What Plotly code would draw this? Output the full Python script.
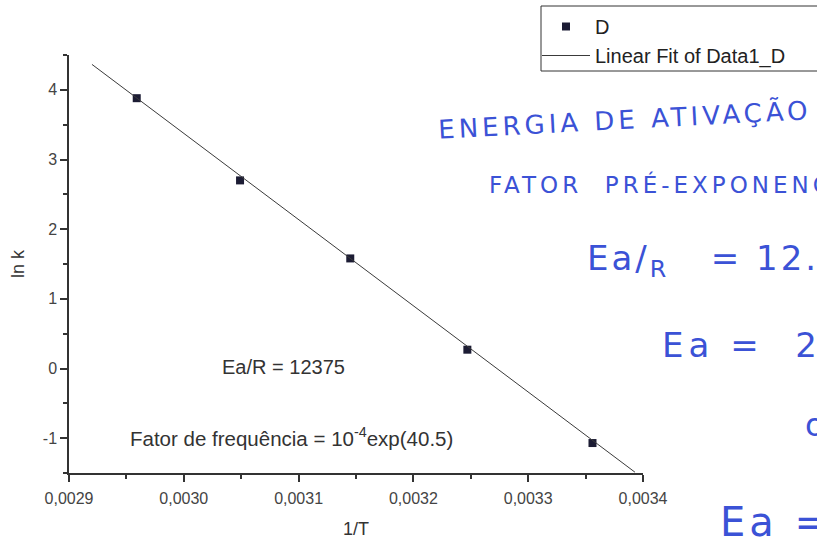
import numpy as np
import plotly.graph_objects as go

# ---- data ----
inv_T = [0.002959, 0.003049, 0.003145, 0.003247, 0.003356]
ln_k = [3.88, 2.70, 1.58, 0.27, -1.07]
fit_slope = -12375.0
fit_intercept = 40.5
fit_x_range = [0.00292, 0.003393]

x_ticks = [0.0029, 0.0030, 0.0031, 0.0032, 0.0033, 0.0034]
x_tick_labels = ["0,0029", "0,0030", "0,0031", "0,0032", "0,0033", "0,0034"]
y_ticks = [-1, 0, 1, 2, 3, 4]
y_tick_labels = ["-1", "0", "1", "2", "3", "4"]

fit_x = np.array(fit_x_range)
fit_y = fit_intercept + fit_slope * fit_x

W, H = 817, 541
L, R, T, B = 69, 643, 55, 473


def px(x):
    return (x - L) / (R - L)


def py(y):
    return (B - y) / (B - T)


fig = go.Figure()
fig.add_trace(go.Scatter(
    x=inv_T, y=ln_k, mode="markers", name="D",
    marker=dict(symbol="square", size=8, color="#1c1c34"),
))
fig.add_trace(go.Scatter(
    x=fit_x, y=fit_y, mode="lines", name="Linear Fit of Data1_D",
    line=dict(color="#3a3a3a", width=1),
))

axis_common = dict(
    showline=True, linecolor="#333333", linewidth=1.5, mirror=False,
    ticks="outside", ticklen=7, tickwidth=1.5, tickcolor="#333333",
    showgrid=False, zeroline=False,
    tickfont=dict(family="Liberation Sans, Arial", size=16, color="#444444"),
)

fig.update_xaxes(
    range=[0.0029, 0.0034], tickvals=x_ticks, ticktext=x_tick_labels,
    minor=dict(ticks="outside", ticklen=4, tickwidth=1.5, tickcolor="#333333", dtick=0.00005),
    ticklabelstandoff=3,
    title=dict(text="1/T", font=dict(family="Liberation Sans, Arial", size=18, color="#333333"), standoff=16),
    **axis_common,
)
fig.update_yaxes(
    range=[-1.5, 4.5], tickvals=y_ticks, ticktext=y_tick_labels,
    minor=dict(ticks="outside", ticklen=4, tickwidth=1.5, tickcolor="#333333", dtick=0.5, tick0=0),
    title=dict(text="ln k", font=dict(family="Liberation Sans, Arial", size=18, color="#333333"), standoff=14),
    **axis_common,
)

ann = []
ann.append(dict(x=px(283), y=py(367), xref="paper", yref="paper", showarrow=False,
                xanchor="center", yanchor="middle",
                text="Ea/R = 12375",
                font=dict(family="Liberation Sans, Arial", size=20, color="#333333")))
ann.append(dict(x=px(291), y=py(437), xref="paper", yref="paper", showarrow=False,
                xanchor="center", yanchor="middle",
                text="Fator de frequência = 10<sup>-4</sup>exp(40.5)",
                font=dict(family="Liberation Sans, Arial", size=20.5, color="#333333")))

blue = "#3b52d6"
hand = "DejaVu Sans"


def spaced(t, s):
    return '<span style="letter-spacing:%dpx">%s</span>' % (s, t)


ann.append(dict(x=px(435), y=py(119), xref="paper", yref="paper", showarrow=False,
                xanchor="left", yanchor="middle", textangle=-3,
                text=spaced("ENERGIA DE ATIVAÇÃO", 4), font=dict(family=hand, size=26, color=blue)))
ann.append(dict(x=px(487), y=py(184), xref="paper", yref="paper", showarrow=False,
                xanchor="left", yanchor="middle",
                text=spaced("FATOR  PRÉ-EXPONENCIAL", 4), font=dict(family=hand, size=23, color=blue)))
ann.append(dict(x=px(585), y=py(260), xref="paper", yref="paper", showarrow=False,
                xanchor="left", yanchor="middle",
                text=spaced("Ea/<sub>R</sub>&nbsp;&nbsp;&nbsp;= 12.375", 3), font=dict(family=hand, size=34, color=blue)))
ann.append(dict(x=px(660), y=py(345), xref="paper", yref="paper", showarrow=False,
                xanchor="left", yanchor="middle",
                text=spaced("Ea =  24,6 kcal/mol", 5), font=dict(family=hand, size=34, color=blue)))
ann.append(dict(x=px(803), y=py(425), xref="paper", yref="paper", showarrow=False,
                xanchor="left", yanchor="middle",
                text="ou", font=dict(family=hand, size=32, color=blue)))
ann.append(dict(x=px(718), y=py(522), xref="paper", yref="paper", showarrow=False,
                xanchor="left", yanchor="middle",
                text=spaced("Ea = 102,9 kJ/mol", 4), font=dict(family=hand, size=40, color=blue)))

# legend frame (runs past the right edge, as in the reference)
shapes = [dict(type="rect", xref="paper", yref="paper",
               x0=px(541), x1=px(830), y0=py(71), y1=py(6),
               line=dict(color="#333333", width=1), fillcolor="white", layer="above")]

fig.update_layout(
    width=W, height=H,
    margin=dict(l=L, r=W - R, t=T, b=H - B, autoexpand=False),
    paper_bgcolor="white", plot_bgcolor="white",
    separators=",.",
    showlegend=True,
    legend=dict(
        x=px(537), y=py(7), xanchor="left", yanchor="top",
        borderwidth=0, bgcolor="rgba(0,0,0,0)",
        font=dict(family="Liberation Sans, Arial", size=20, color="#222222"),
        itemwidth=48, tracegroupgap=0,
    ),
    shapes=shapes,
    annotations=ann,
)

fig.write_html(
    "out.html",
    config={"displayModeBar": False},
    post_script="document.body.style.margin='0';document.body.style.padding='0';",
)
